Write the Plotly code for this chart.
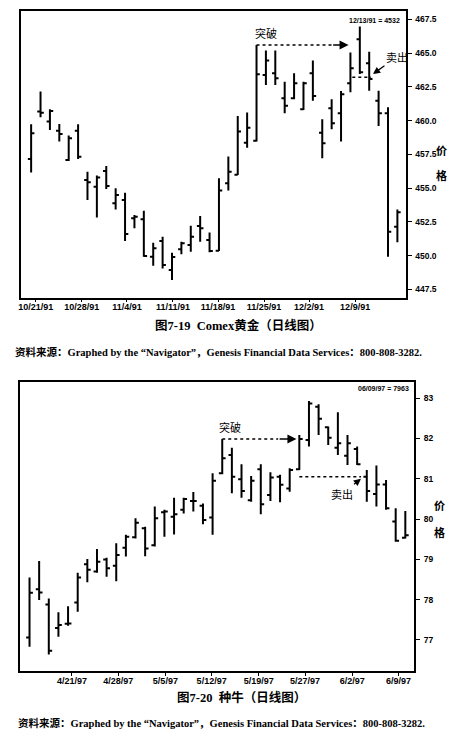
import plotly.graph_objects as go

W, H = 457, 752

# ---------------- Data: Comex gold (10/21/91 - 12/13/91) ----------------
gold_open = [457.15, 460.66, 459.92, 459.25, 457.08, 459.25, 455.60, 455.10, 456.26, 453.87,
             454.11, 452.76, 452.68, 449.91, 451.08, 448.93, 450.46, 450.78, 452.19, 451.15,
             450.36, 455.35, 455.99, 458.36, 458.50, 463.37, 463.50, 461.65, 461.65, 460.83,
             463.50, 459.10, 460.91, 460.54, 462.76, 466.02, 464.24, 461.47, 460.54, 452.14]
gold_high = [459.72, 462.14, 460.83, 459.74, 458.90, 459.72, 456.21, 455.92, 456.63, 454.98,
             454.66, 453.00, 453.32, 450.95, 451.40, 450.20, 451.03, 452.21, 452.93, 451.70,
             455.72, 457.33, 460.34, 460.59, 465.60, 465.18, 465.18, 462.88, 463.50, 462.88,
             464.44, 460.09, 461.57, 462.19, 465.03, 466.96, 465.10, 462.21, 460.98, 453.42]
gold_low = [456.16, 460.24, 459.30, 458.44, 457.00, 457.15, 454.11, 452.81, 454.93, 453.42,
            451.08, 452.02, 449.92, 449.25, 449.05, 448.19, 450.09, 450.29, 451.03, 450.24,
            450.34, 454.81, 455.97, 457.99, 458.44, 462.63, 462.63, 460.54, 461.57, 460.78,
            461.47, 457.20, 459.35, 458.44, 462.09, 463.45, 462.21, 459.60, 449.92, 450.98]
gold_close = [459.05, 460.58, 460.71, 459.00, 458.68, 457.32, 455.42, 455.79, 455.15, 454.48,
              451.60, 452.88, 449.97, 450.54, 449.30, 449.90, 450.91, 451.40, 452.02, 450.34,
              454.81, 456.21, 459.18, 459.47, 463.43, 464.44, 463.13, 461.10, 462.76, 462.76,
              461.82, 458.31, 459.79, 461.94, 463.87, 463.57, 463.08, 460.54, 451.77, 453.20]
gold_tick_pos = [0.5, 5.4, 10.2, 15.1, 19.9, 24.8, 29.6, 34.5]
gold_tick_labels = ["10/21/91", "10/28/91", "11/4/91", "11/11/91", "11/18/91",
                    "11/25/91", "12/2/91", "12/9/91"]
gold_y_ticks = [447.5, 450.0, 452.5, 455.0, 457.5, 460.0, 462.5, 465.0, 467.5]
gold_breakout_idx = 24
gold_sell_idx = 36
gold_sell_level = 463.2

# ---------------- Data: live cattle (4/15/97 - 6/9/97) ----------------
cattle_open = [77.06, 78.26, 77.88, 77.30, 77.40, 77.93, 78.88, 78.70, 79.00, 78.84,
               79.29, 79.55, 79.77, 79.35, 80.17, 80.06, 80.23, 80.45, 80.33, 80.04,
               81.14, 81.59, 80.99, 80.47, 81.24, 80.60, 81.05, 80.76, 81.24, 81.96,
               82.79, 82.28, 81.77, 81.57, 81.74, 81.05, 80.62, 80.86, 79.94, 79.54]
cattle_high = [78.55, 78.96, 78.03, 77.69, 77.84, 78.67, 79.01, 79.26, 79.04, 79.40,
               79.61, 80.02, 79.81, 80.31, 80.23, 80.53, 80.53, 80.67, 80.39, 81.14,
               81.99, 81.77, 81.36, 81.07, 81.36, 81.16, 81.10, 81.26, 82.09, 82.93,
               82.85, 82.30, 82.65, 82.09, 81.80, 81.22, 81.33, 80.97, 80.27, 80.20]
cattle_low = [76.83, 77.99, 76.64, 77.08, 77.35, 77.70, 78.43, 78.67, 78.57, 78.46,
              79.07, 79.52, 79.08, 79.32, 79.56, 79.62, 80.14, 80.19, 79.87, 79.61,
              81.11, 80.64, 80.53, 80.43, 80.12, 80.45, 80.42, 80.68, 81.22, 81.80,
              82.09, 81.84, 81.59, 81.34, 81.34, 80.43, 80.31, 80.23, 79.44, 79.52]
cattle_close = [78.17, 78.18, 76.73, 77.37, 77.41, 78.55, 78.74, 78.94, 78.78, 79.11,
                79.56, 79.91, 79.27, 80.02, 80.19, 80.12, 80.50, 80.45, 79.98, 80.95,
                81.51, 81.05, 80.70, 80.95, 80.37, 81.03, 80.85, 81.22, 81.99, 82.87,
                82.49, 82.02, 81.88, 81.88, 81.36, 80.70, 80.86, 80.27, 79.46, 79.60]
cattle_tick_pos = [4.4, 9.2, 14.1, 18.9, 23.8, 28.6, 33.5, 38.3]
cattle_tick_labels = ["4/21/97", "4/28/97", "5/5/97", "5/12/97", "5/19/97",
                      "5/27/97", "6/2/97", "6/9/97"]
cattle_y_ticks = [77, 78, 79, 80, 81, 82, 83]
cattle_breakout_idx = 20
cattle_sell_idx = 34
cattle_sell_level = 81.05


def px(x):
    return x / W


def py(y):
    return 1 - y / H


BAR = dict(color="black", width=2)
XTICKFONT = dict(family="Liberation Sans Narrow, Liberation Sans, Arial", size=9,
                 color="black", weight="bold")
YTICKFONT = dict(family="Liberation Sans Narrow, Liberation Sans, Arial", size=8.5,
                 color="black", weight="bold")
CJK = "Liberation Serif, Noto Sans CJK SC"

fig = go.Figure()

fig.add_trace(go.Ohlc(
    x=list(range(len(gold_open))), open=gold_open, high=gold_high,
    low=gold_low, close=gold_close, tickwidth=0.35,
    increasing=dict(line=BAR), decreasing=dict(line=BAR),
    xaxis="x", yaxis="y", showlegend=False, hoverinfo="skip"))

fig.add_trace(go.Ohlc(
    x=list(range(len(cattle_open))), open=cattle_open, high=cattle_high,
    low=cattle_low, close=cattle_close, tickwidth=0.35,
    increasing=dict(line=BAR), decreasing=dict(line=BAR),
    xaxis="x2", yaxis="y2", showlegend=False, hoverinfo="skip"))

DOT = dict(color="black", width=1.5, dash="dot")

# breakout / sell dotted lines
g_b = gold_breakout_idx
fig.add_trace(go.Scatter(x=[g_b, g_b + 8], y=[gold_high[g_b]] * 2, mode="lines",
                         line=DOT, xaxis="x", yaxis="y", showlegend=False, hoverinfo="skip"))
fig.add_trace(go.Scatter(x=[35 - 0.8, 36 + 0.2], y=[gold_sell_level] * 2, mode="lines",
                         line=DOT, xaxis="x", yaxis="y", showlegend=False, hoverinfo="skip"))
c_b = cattle_breakout_idx
fig.add_trace(go.Scatter(x=[c_b, c_b + 5.8], y=[cattle_high[c_b]] * 2, mode="lines",
                         line=DOT, xaxis="x2", yaxis="y2", showlegend=False, hoverinfo="skip"))
fig.add_trace(go.Scatter(x=[28, cattle_sell_idx + 0.4], y=[cattle_sell_level] * 2, mode="lines",
                         line=DOT, xaxis="x2", yaxis="y2", showlegend=False, hoverinfo="skip"))

annotations = []
annotations.append(dict(x=g_b + 9.8, y=gold_high[g_b], ax=g_b + 8, ay=gold_high[g_b],
                        xref="x", yref="y", axref="x", ayref="y", text="", showarrow=True,
                        arrowhead=2, arrowsize=1.2, arrowwidth=1.5, arrowcolor="black"))
annotations.append(dict(x=c_b + 7.7, y=cattle_high[c_b], ax=c_b + 5.8, ay=cattle_high[c_b],
                        xref="x2", yref="y2", axref="x2", ayref="y2", text="", showarrow=True,
                        arrowhead=2, arrowsize=1.2, arrowwidth=1.5, arrowcolor="black"))
annotations.append(dict(x=25.0, y=466.5, xref="x", yref="y", text="突破", showarrow=False,
                        font=dict(family="Noto Sans CJK SC", size=11, color="black")))
annotations.append(dict(x=20.8, y=82.29, xref="x2", yref="y2", text="突破", showarrow=False,
                        font=dict(family="Noto Sans CJK SC", size=11, color="black")))
annotations.append(dict(x=gold_sell_idx + 0.4, y=gold_sell_level + 0.25, xref="x", yref="y",
                        text="卖出", showarrow=True, ax=24, ay=-17, arrowhead=2,
                        arrowsize=1.1, arrowwidth=1.3, arrowcolor="black",
                        font=dict(family="Noto Sans CJK SC", size=11, color="black")))
annotations.append(dict(x=cattle_sell_idx + 0.4, y=cattle_sell_level - 0.05, xref="x2", yref="y2",
                        text="卖出", showarrow=True, ax=-19, ay=15, arrowhead=2,
                        arrowsize=1.1, arrowwidth=1.3, arrowcolor="black",
                        font=dict(family="Noto Sans CJK SC", size=11, color="black")))
annotations.append(dict(x=px(402), y=py(15), xref="paper", yref="paper",
                        text="12/13/91 = 4532", showarrow=False, xanchor="right",
                        font=dict(family="Liberation Sans Narrow, Liberation Sans", size=7,
                                  color="black", weight="bold")))
annotations.append(dict(x=px(411), y=py(388), xref="paper", yref="paper",
                        text="06/09/97 = 7963", showarrow=False, xanchor="right",
                        font=dict(family="Liberation Sans Narrow, Liberation Sans", size=7,
                                  color="black", weight="bold")))
for (xx, yy, t) in [(449, 140, "价"), (449, 165, "格"), (447, 515, "价"), (447, 542, "格")]:
    annotations.append(dict(x=px(xx), y=py(yy), xref="paper", yref="paper", text=t,
                            showarrow=False,
                            font=dict(family="Noto Sans CJK SC", size=11, color="black",
                                      weight="bold")))
annotations.append(dict(x=px(237), y=py(325), xref="paper", yref="paper",
                        text="图7-19  Comex黄金（日线图）", showarrow=False,
                        font=dict(family=CJK, size=12.5, color="black", weight="bold")))
annotations.append(dict(x=px(240), y=py(706.5), xref="paper", yref="paper",
                        text="图7-20  种牛（日线图）", showarrow=False,
                        font=dict(family=CJK, size=12.5, color="black", weight="bold")))
src = "资料来源：Graphed by the “Navigator”，Genesis Financial Data Services：800-808-3282."
annotations.append(dict(x=px(10), y=py(351.5), xref="paper", yref="paper", text=src,
                        showarrow=False, xanchor="left",
                        font=dict(family=CJK, size=10.5, color="black", weight="bold")))
annotations.append(dict(x=px(13), y=py(731), xref="paper", yref="paper", text=src,
                        showarrow=False, xanchor="left",
                        font=dict(family=CJK, size=10.5, color="black", weight="bold")))

AX = dict(showline=True, linecolor="black", linewidth=1.5, mirror=True, showgrid=False,
          zeroline=False, ticks="outside", tickwidth=1.2, tickcolor="black",
          fixedrange=True)
XAX = dict(AX, ticklen=3, tickfont=XTICKFONT, ticklabelstandoff=-3)
YAX = dict(AX, ticklen=4, tickfont=YTICKFONT, side="right", ticklabelstandoff=2)

fig.update_layout(
    width=W, height=H, margin=dict(l=0, r=0, t=0, b=0),
    paper_bgcolor="white", plot_bgcolor="white",
    annotations=annotations, showlegend=False,
    xaxis=dict(XAX, domain=[px(18.3), px(405.5)], anchor="y", range=[-1.06, 39.9],
               tickvals=gold_tick_pos, ticktext=gold_tick_labels,
               rangeslider=dict(visible=False)),
    yaxis=dict(YAX, domain=[py(297.7), py(11)], anchor="x",
               range=[446.88, 468.11], tickvals=gold_y_ticks,
               ticktext=[f"{v:.1f}" for v in gold_y_ticks]),
    xaxis2=dict(XAX, domain=[px(16.7), px(414)], anchor="y2", range=[-1.03, 39.93],
                tickvals=cattle_tick_pos, ticktext=cattle_tick_labels,
                rangeslider=dict(visible=False)),
    yaxis2=dict(YAX, domain=[py(671), py(381.7)], anchor="x2",
                range=[76.23, 83.41], tickvals=cattle_y_ticks,
                ticktext=[str(v) for v in cattle_y_ticks]),
)

fig.write_html("out.html", config={"displayModeBar": False},
               post_script="document.body.style.margin='0px';"
                           "document.body.style.overflow='hidden';")
